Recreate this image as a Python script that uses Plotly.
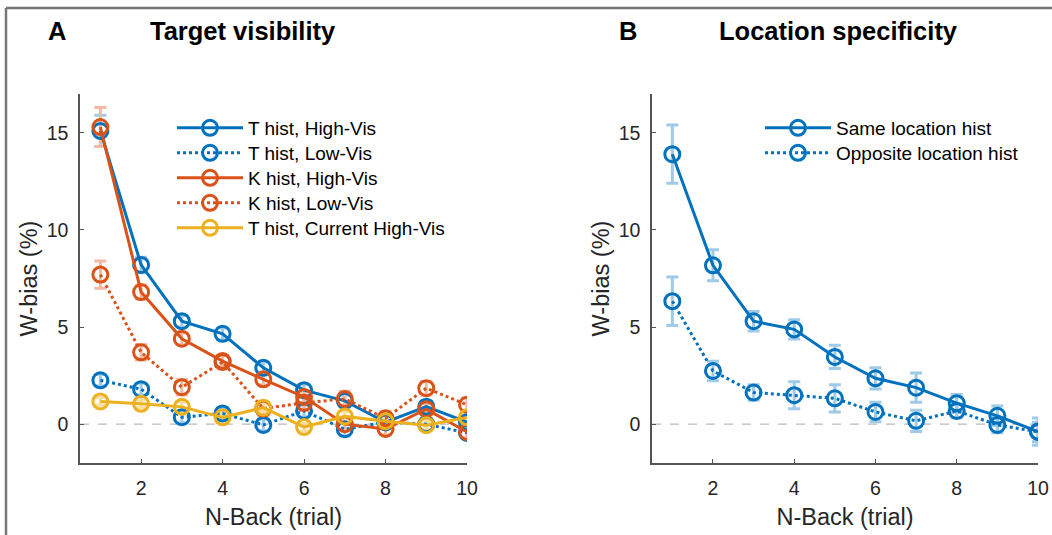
import plotly.graph_objects as go

# ---------------- data ----------------
n_back = [1, 2, 3, 4, 5, 6, 7, 8, 9, 10]

# Panel A: Target visibility
t_high = [15.1, 8.2, 5.3, 4.65, 2.9, 1.75, 1.2, 0.1, 0.9, 0.1]
t_high_err = [0.8, 0.4, 0.3, 0.3, 0.3, 0.3, 0.3, 0.3, 0.3, 0.3]
t_low = [2.26, 1.8, 0.36, 0.55, -0.04, 0.68, -0.26, 0.1, 0.0, -0.45]
t_low_err = [0.3, 0.3, 0.3, 0.3, 0.3, 0.3, 0.35, 0.3, 0.3, 0.3]
k_high = [15.3, 6.8, 4.4, 3.25, 2.31, 1.4, 0.0, -0.25, 0.77, -0.4]
k_high_err = [1.0, 0.35, 0.3, 0.3, 0.3, 0.3, 0.3, 0.3, 0.3, 0.3]
k_low = [7.7, 3.7, 1.9, 3.2, 0.8, 1.1, 1.3, 0.3, 1.85, 1.0]
k_low_err = [0.7, 0.4, 0.4, 0.35, 0.35, 0.4, 0.4, 0.35, 0.35, 0.35]
t_cur_high = [1.17, 1.05, 0.89, 0.35, 0.85, -0.15, 0.4, 0.15, -0.05, 0.35]
t_cur_high_err = [0.2, 0.2, 0.25, 0.2, 0.2, 0.2, 0.25, 0.2, 0.2, 0.2]

# Panel B: Location specificity
same_loc = [13.9, 8.18, 5.3, 4.88, 3.46, 2.36, 1.88, 1.08, 0.43, -0.38]
same_loc_err = [1.5, 0.8, 0.5, 0.5, 0.6, 0.55, 0.75, 0.45, 0.5, 0.7]
opp_loc = [6.33, 2.74, 1.63, 1.49, 1.33, 0.63, 0.17, 0.68, -0.04, -0.4]
opp_loc_err = [1.25, 0.5, 0.4, 0.7, 0.7, 0.5, 0.55, 0.35, 0.4, 0.5]

x_ticks = [2, 4, 6, 8, 10]
y_ticks = [0, 5, 10, 15]

# ---------------- style ----------------
BLUE = "#0072BD"
ORANGE = "#D95319"
YELLOW = "#EDB120"
BLUE_E = "#9FCAE8"
ORANGE_E = "#F2B9A3"
YELLOW_E = "#F7DDA0"
FONT = "Liberation Sans, Arial, Helvetica, sans-serif"
AX = "#555555"
TXT = "#262626"
W, H = 1052, 535

series_a = [
    (t_high, t_high_err, BLUE, BLUE_E, "solid", "T hist, High-Vis"),
    (t_low, t_low_err, BLUE, BLUE_E, "dot", "T hist, Low-Vis"),
    (k_high, k_high_err, ORANGE, ORANGE_E, "solid", "K hist, High-Vis"),
    (k_low, k_low_err, ORANGE, ORANGE_E, "dot", "K hist, Low-Vis"),
    (t_cur_high, t_cur_high_err, YELLOW, YELLOW_E, "solid", "T hist, Current High-Vis"),
]
series_b = [
    (same_loc, same_loc_err, BLUE, BLUE_E, "solid", "Same location hist"),
    (opp_loc, opp_loc_err, BLUE, BLUE_E, "dot", "Opposite location hist"),
]

fig = go.Figure()

# error bars first (drawn underneath)
for panel, series, xa, ya in (("a", series_a, "x", "y"), ("b", series_b, "x2", "y2")):
    for i, (y, e, c, ec, d, nm) in enumerate(series):
        fig.add_trace(go.Scatter(
            x=n_back, y=y, mode="markers", xaxis=xa, yaxis=ya,
            marker=dict(size=2, opacity=0),
            error_y=dict(type="data", array=e, color=ec, thickness=3, width=6),
            showlegend=False, hoverinfo="skip"))

# lines + markers, each in its own legend box (one row each)
legend_layout = {}
leg_idx = 0
for panel, series, xa, ya, lx in (("a", series_a, "x", "y", 172), ("b", series_b, "x2", "y2", 760)):
    for i, (y, e, c, ec, d, nm) in enumerate(series):
        leg_idx += 1
        lname = "legend" if leg_idx == 1 else f"legend{leg_idx}"
        fig.add_trace(go.Scatter(
            x=n_back, y=y, mode="lines+markers", name=nm, xaxis=xa, yaxis=ya,
            line=dict(color=c, width=3, dash=d),
            marker=dict(symbol="circle-open", size=15, color=c, line=dict(width=3, color=c)),
            legend=lname))
        row_y = 128 + 25 * i
        legend_layout[lname] = dict(
            x=lx / W, y=1 - row_y / H, xanchor="left", yanchor="middle",
            bgcolor="rgba(0,0,0,0)", borderwidth=0,
            font=dict(family=FONT, size=19, color="black"), itemwidth=66)

xa_common = dict(range=[0.5, 10], tickvals=x_ticks, ticks="inside", ticklen=4, tickwidth=1,
                 tickcolor=AX, showline=True, linecolor=AX, linewidth=1.5, showgrid=False,
                 zeroline=False, automargin=False,
                 tickfont=dict(family=FONT, size=19.5, color=TXT), ticklabelstandoff=7,
                 title=dict(text="N-Back (trial)", font=dict(family=FONT, size=23.5, color=TXT), standoff=10),
                 fixedrange=True)
ya_common = dict(range=[-2, 17], tickvals=y_ticks, ticks="inside", ticklen=4, tickwidth=1,
                 tickcolor=AX, showline=True, linecolor=AX, linewidth=1.5, showgrid=False,
                 zeroline=False, automargin=False,
                 tickfont=dict(family=FONT, size=19.5, color=TXT), ticklabelstandoff=6,
                 title=dict(text="W-bias (%)", font=dict(family=FONT, size=23.5, color=TXT), standoff=2),
                 fixedrange=True)

ydom = [72 / H, 441 / H]
fig.update_layout(
    width=W, height=H, autosize=False,
    margin=dict(l=0, r=0, t=0, b=0, pad=0),
    paper_bgcolor="white", plot_bgcolor="white",
    font=dict(family=FONT, color=TXT),
    xaxis=dict(domain=[80 / W, 467 / W], anchor="y", **xa_common),
    yaxis=dict(domain=ydom, anchor="x", **ya_common),
    xaxis2=dict(domain=[652 / W, 1038 / W], anchor="y2", **xa_common),
    yaxis2=dict(domain=ydom, anchor="x2", **ya_common),
    showlegend=True,
    **legend_layout,
)

# zero reference lines
for xr, yr in (("x", "y"), ("x2", "y2")):
    fig.add_shape(type="line", xref=xr, yref=yr, x0=0.5, x1=10, y0=0, y1=0,
                  line=dict(color="#BBBBBB", width=1.2, dash="dash"), layer="below")

# figure frame (top & left border)
fig.add_shape(type="line", xref="paper", yref="paper", x0=6 / W, x1=1, y0=1 - 8 / H, y1=1 - 8 / H,
              line=dict(color="#777777", width=2.5))
fig.add_shape(type="line", xref="paper", yref="paper", x0=6 / W, x1=6 / W, y0=0, y1=1 - 8 / H,
              line=dict(color="#777777", width=2.5))

# panel labels and titles
for txt, xp in (("A", 57), ("Target visibility", 243), ("B", 628), ("Location specificity", 838)):
    fig.add_annotation(text=f"<b>{txt}</b>", xref="paper", yref="paper", x=xp / W, y=1 - 31 / H,
                       showarrow=False, xanchor="center", yanchor="middle",
                       font=dict(family=FONT, size=25.5, color="black"))

fig.write_html(
    "out.html",
    config={"displayModeBar": False, "responsive": False},
    post_script=(
        "document.documentElement.style.overflow='hidden';"
        "document.body.style.margin='0px';document.body.style.overflow='hidden';"
    ),
)
